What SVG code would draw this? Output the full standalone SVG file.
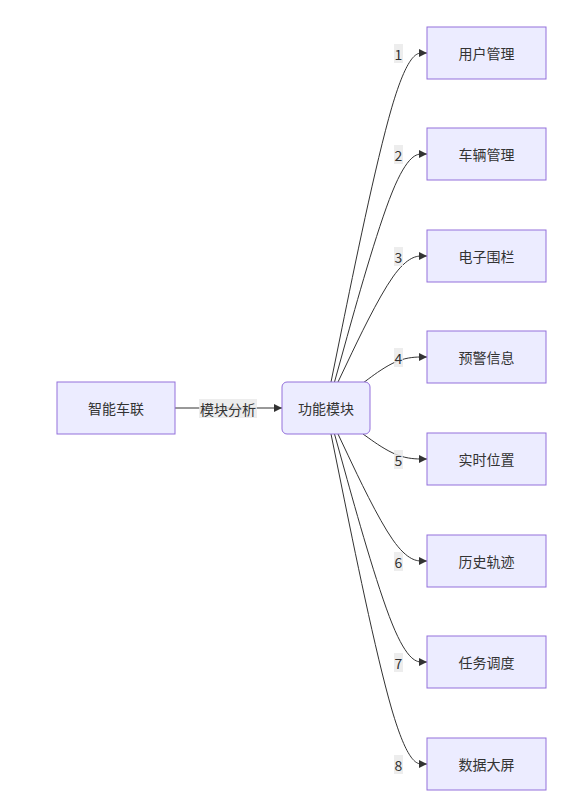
<svg xmlns="http://www.w3.org/2000/svg" width="581" height="801" viewBox="0 0 581 801">
<defs>
<style>
.node rect{fill:#ECECFF;stroke:#9370DB;stroke-width:1}
text{font-family:"Noto Sans CJK SC","Noto Sans",sans-serif;font-size:14px;fill:#333;text-anchor:middle;dominant-baseline:central}
.edge{fill:none;stroke:#333;stroke-width:1;marker-end:url(#arrow)}
.lbg{fill:#e8e8e8;fill-opacity:0.8}
</style>
<marker id="arrow" viewBox="0 0 10 10" refX="10" refY="5" markerWidth="8" markerHeight="8" markerUnits="userSpaceOnUse" orient="auto">
<path d="M0,0 L10,5 L0,10 z" fill="#333"/>
</marker>
</defs>
<rect width="581" height="801" fill="#fff"/>
<g id="connectors">
<path class="edge" d="M175,408 L282,408"/>
<path class="edge" d="M331,382 L342.17,327.17 C353.33,272.33 375.67,162.67 391.67,107.83 C407.67,53 417.33,53 422.17,53 L427,53"/>
<path class="edge" d="M334.5,382 L345.08,344 C355.67,306 376.83,230 392.25,192 C407.67,154 417.33,154 422.17,154 L427,154"/>
<path class="edge" d="M338,382 L348,361 C358,340 378,298 392.83,277 C407.67,256 417.33,256 422.17,256 L427,256"/>
<path class="edge" d="M363,383 L368.83,378.67 C374.67,374.33 386.33,365.67 397,361.33 C407.67,357 417.33,357 422.17,357 L427,357"/>
<path class="edge" d="M363,434 L368.83,438.17 C374.67,442.33 386.33,450.67 397,454.83 C407.67,459 417.33,459 422.17,459 L427,459"/>
<path class="edge" d="M338,434 L348,455.17 C358,476.33 378,518.67 392.83,539.83 C407.67,561 417.33,561 422.17,561 L427,561"/>
<path class="edge" d="M334.5,434 L345.08,472 C355.67,510 376.83,586 392.25,624 C407.67,662 417.33,662 422.17,662 L427,662"/>
<path class="edge" d="M331,434 L342.17,489 C353.33,544 375.67,654 391.67,709 C407.67,764 417.33,764 422.17,764 L427,764"/>
<g id="edge-labels">
<rect class="lbg" x="199" y="399" width="58" height="19"/><text x="228" y="408.5">模块分析</text>
<rect class="lbg" x="394" y="44" width="9" height="19"/><text x="398.5" y="53.5">1</text>
<rect class="lbg" x="394" y="145" width="9" height="19"/><text x="398.5" y="154.5">2</text>
<rect class="lbg" x="394" y="247" width="9" height="19"/><text x="398.5" y="256.5">3</text>
<rect class="lbg" x="394" y="348" width="9" height="19"/><text x="398.5" y="357.5">4</text>
<rect class="lbg" x="394" y="450" width="9" height="19"/><text x="398.5" y="459.5">5</text>
<rect class="lbg" x="394" y="552" width="9" height="19"/><text x="398.5" y="561.5">6</text>
<rect class="lbg" x="394" y="653" width="9" height="19"/><text x="398.5" y="662.5">7</text>
<rect class="lbg" x="394" y="755" width="9" height="19"/><text x="398.5" y="764.5">8</text>
</g>
</g>
<g id="n-znc" class="node"><rect x="57" y="382" width="118" height="52"/><text x="116" y="408">智能车联</text></g>
<g id="n-gnmk" class="node"><rect x="282" y="382" width="88" height="52" rx="5" ry="5"/><text x="326" y="408">功能模块</text></g>
<g id="n-1" class="node"><rect x="427" y="27" width="119" height="52"/><text x="486.5" y="53">用户管理</text></g>
<g id="n-2" class="node"><rect x="427" y="128" width="119" height="52"/><text x="486.5" y="154">车辆管理</text></g>
<g id="n-3" class="node"><rect x="427" y="230" width="119" height="52"/><text x="486.5" y="256">电子围栏</text></g>
<g id="n-4" class="node"><rect x="427" y="331" width="119" height="52"/><text x="486.5" y="357">预警信息</text></g>
<g id="n-5" class="node"><rect x="427" y="433" width="119" height="52"/><text x="486.5" y="459">实时位置</text></g>
<g id="n-6" class="node"><rect x="427" y="535" width="119" height="52"/><text x="486.5" y="561">历史轨迹</text></g>
<g id="n-7" class="node"><rect x="427" y="636" width="119" height="52"/><text x="486.5" y="662">任务调度</text></g>
<g id="n-8" class="node"><rect x="427" y="738" width="119" height="52"/><text x="486.5" y="764">数据大屏</text></g>
</svg>
